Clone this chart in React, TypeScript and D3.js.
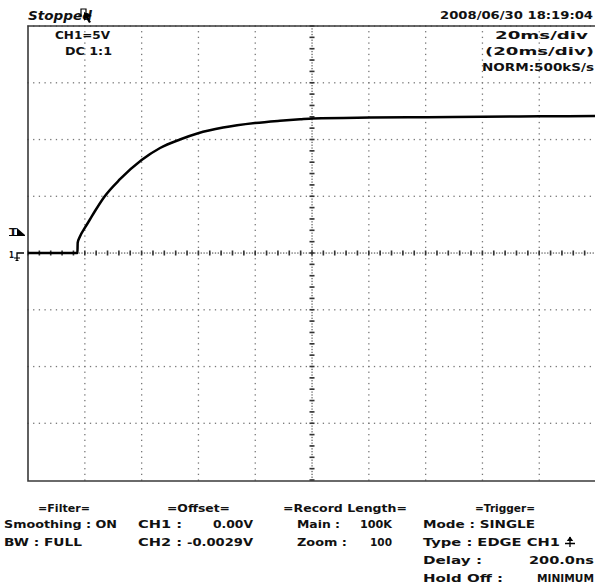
import React from "react";
import * as d3 from "d3";

// ---- data (CH1 trace, time in ms from left edge, volts) ----
const TIME_MS = [0, 17.4, 17.5, 18.3, 20.1, 21.8, 23.6, 26.9, 32.4, 40.0, 46.5, 53.5, 59.9, 68.7, 79.9, 88.7, 95.8, 100.4, 120.4, 140.5, 160.2, 180.3, 200];
const CH1_VOLTS = [0, 0, 0.9, 1.45, 2.25, 2.95, 3.7, 4.96, 6.5, 8.19, 9.25, 10.0, 10.55, 11.05, 11.45, 11.65, 11.78, 11.85, 11.93, 11.97, 12.01, 12.04, 12.07];

const TIME_DIVS = d3.range(0, 201, 20);
const VOLT_DIVS = d3.range(-20, 20.01, 5);

const STATUS = "Stopped";
const DATE_TEXT = "2008/06/30  18:19:04";
const HEADER_LEFT = ["CH1=5V", "DC  1:1"];
const HEADER_RIGHT = ["20ms/div", "(20ms/div)", "NORM:500kS/s"];

const FILTER_TITLE = "=Filter=";
const FILTER_ROWS = ["Smoothing : ON", "BW : FULL"];
const OFFSET_TITLE = "=Offset=";
const OFFSET_LABELS = ["CH1 :", "CH2 :"];
const OFFSET_VALUES = ["0.00V", "-0.0029V"];
const RECORD_TITLE = "=Record Length=";
const RECORD_LABELS = ["Main :", "Zoom :"];
const RECORD_VALUES = ["100K", "100"];
const TRIGGER_TITLE = "=Trigger=";
const TRIGGER_ROWS = ["Mode : SINGLE", "Type : EDGE CH1"];
const TRIGGER_LABELS = ["Delay :", "Hold Off :"];
const TRIGGER_VALUES = ["200.0ns", "MINIMUM"];

const W = 595;
const H = 588;
const FONT = "'DejaVu Sans', 'Liberation Sans', sans-serif";
const INK = "#111";

type TProps = { x: number; y: number; len: number; anchor?: "start" | "end" | "middle"; size?: number; italic?: boolean; children: string };
function T({ x, y, len, anchor = "start", size = 11, italic = false, children }: TProps) {
  return (
    <text
      x={x}
      y={y}
      textAnchor={anchor}
      textLength={len}
      lengthAdjust="spacingAndGlyphs"
      fontFamily={FONT}
      fontWeight="bold"
      fontStyle={italic ? "italic" : "normal"}
      fontSize={size}
      fill={INK}
    >
      {children}
    </text>
  );
}

export default function App() {
  const x = d3.scaleLinear().domain([0, 200]).range([28, 596]);
  const y = d3.scaleLinear().domain([-20, 20]).range([480, 26]);

  const line = d3
    .line<number>()
    .x((_, i) => x(TIME_MS[i]))
    .y((v) => y(v))
    .curve(d3.curveMonotoneX);

  const dots: JSX.Element[] = [];
  TIME_DIVS.forEach((t) => {
    if (t === 0 || t === 100) return;
    d3.range(-20, 20.001, 0.5).forEach((v, j) => {
      dots.push(<rect key={`v${t}-${j}`} x={x(t) - 0.6} y={y(v) - 0.6} width={1.3} height={1.3} fill="#777" />);
    });
  });
  VOLT_DIVS.forEach((v) => {
    if (v === 0 || v === -20) return;
    d3.range(0, 200.001, 2).forEach((t, j) => {
      dots.push(<rect key={`h${v}-${j}`} x={x(t) - 0.6} y={y(v) - 0.6} width={1.3} height={1.3} fill="#777" />);
    });
  });
  d3.range(-20, 20.001, 0.25).forEach((v, j) => {
    dots.push(<rect key={`cv-${j}`} x={x(100) - 0.6} y={y(v) - 0.6} width={1.3} height={1.3} fill="#666" />);
  });
  d3.range(0, 200.001, 1).forEach((t, j) => {
    dots.push(<rect key={`ch-${j}`} x={x(t) - 0.6} y={y(0) - 0.6} width={1.3} height={1.3} fill="#666" />);
  });
  const ticks: JSX.Element[] = [];
  d3.range(-20, 20.001, 1).forEach((v, j) => {
    ticks.push(<rect key={`tv-${j}`} x={x(100) - 2.5} y={y(v) - 0.8} width={5} height={1.6} fill="#333" />);
  });
  d3.range(0, 200.001, 4).forEach((t, j) => {
    ticks.push(<rect key={`th-${j}`} x={x(t) - 0.8} y={y(0) - 2.5} width={1.6} height={5} fill="#333" />);
  });

  const colA = 4, colB = 138, colBr = 253, colC = 297, colCr = 392, colD = 423, colDr = 594;
  const rowY = [528, 546, 564, 582];
  const titleY = 512;

  return (
    <svg width={W} height={H} style={{ position: "absolute", left: 0, top: 0, background: "#fff" }}>
      <rect x={0} y={0} width={W} height={H} fill="#fff" />
      <g>{dots}</g>
      <g>{ticks}</g>
      <path d={`M${x(200)},${y(20)} H${x(0)} V${y(-20) + 1}  H${x(200)}`} fill="none" stroke="#3a3a3a" strokeWidth={1.6} />

      <path d={line(CH1_VOLTS) || ""} fill="none" stroke="#000" strokeWidth={2.5} strokeLinejoin="round" />

      <T x={28} y={20} len={64} italic size={12}>{STATUS}</T>
      <g stroke="#000" strokeWidth={1.2} fill="none">
        <path d="M78,16 H81 V9 H86 V16 H89" />
      </g>
      <path d="M84,12 L92,16 L88,17 L91,22 L89,23 L86,18 L84,21 Z" fill="#000" />
      <T x={593} y={19} len={153} anchor="end" size={11}>{DATE_TEXT}</T>

      <T x={55} y={39} len={55}>{HEADER_LEFT[0]}</T>
      <T x={65} y={55} len={47}>{HEADER_LEFT[1]}</T>
      <T x={588} y={39} len={93} anchor="end">{HEADER_RIGHT[0]}</T>
      <T x={594} y={55} len={109} anchor="end">{HEADER_RIGHT[1]}</T>
      <T x={594} y={71} len={112} anchor="end">{HEADER_RIGHT[2]}</T>

      <T x={9} y={235} len={8} size={9}>T</T>
      <path d="M17,228 L17,235 L25,235 Z" fill="#000" />
      <line x1={9} y1={235.5} x2={25} y2={235.5} stroke="#000" strokeWidth={1} />
      <T x={9} y={258} len={5} size={9}>1</T>
      <path d="M17,260 V253 H24" fill="none" stroke="#000" strokeWidth={1.3} />
      <path d="M14,258 H20 M15.5,260.5 H18.5" fill="none" stroke="#000" strokeWidth={1} />

      <T x={38} y={titleY} len={52}>{FILTER_TITLE}</T>
      <T x={colA} y={rowY[0]} len={113}>{FILTER_ROWS[0]}</T>
      <T x={colA} y={rowY[1]} len={78}>{FILTER_ROWS[1]}</T>

      <T x={167} y={titleY} len={63}>{OFFSET_TITLE}</T>
      <T x={colB} y={rowY[0]} len={44}>{OFFSET_LABELS[0]}</T>
      <T x={colB} y={rowY[1]} len={44}>{OFFSET_LABELS[1]}</T>
      <T x={colBr} y={rowY[0]} len={40} anchor="end">{OFFSET_VALUES[0]}</T>
      <T x={colBr} y={rowY[1]} len={66} anchor="end">{OFFSET_VALUES[1]}</T>

      <T x={283} y={titleY} len={124}>{RECORD_TITLE}</T>
      <T x={colC} y={rowY[0]} len={43}>{RECORD_LABELS[0]}</T>
      <T x={colC} y={rowY[1]} len={50}>{RECORD_LABELS[1]}</T>
      <T x={colCr} y={rowY[0]} len={32} anchor="end">{RECORD_VALUES[0]}</T>
      <T x={colCr} y={rowY[1]} len={22} anchor="end">{RECORD_VALUES[1]}</T>

      <T x={475} y={titleY} len={60}>{TRIGGER_TITLE}</T>
      <T x={colD} y={rowY[0]} len={112}>{TRIGGER_ROWS[0]}</T>
      <T x={colD} y={rowY[1]} len={137}>{TRIGGER_ROWS[1]}</T>
      <path d="M565,543.5 H575 M570,547 V537" fill="none" stroke="#000" strokeWidth={1.3} />
      <path d="M566.8,541 L570,536.5 L573.2,541 Z" fill="#000" />
      <T x={colD} y={rowY[2]} len={59}>{TRIGGER_LABELS[0]}</T>
      <T x={colD} y={rowY[3]} len={80}>{TRIGGER_LABELS[1]}</T>
      <T x={colDr} y={rowY[2]} len={65} anchor="end">{TRIGGER_VALUES[0]}</T>
      <T x={colDr} y={rowY[3]} len={57} anchor="end">{TRIGGER_VALUES[1]}</T>
    </svg>
  );
}
